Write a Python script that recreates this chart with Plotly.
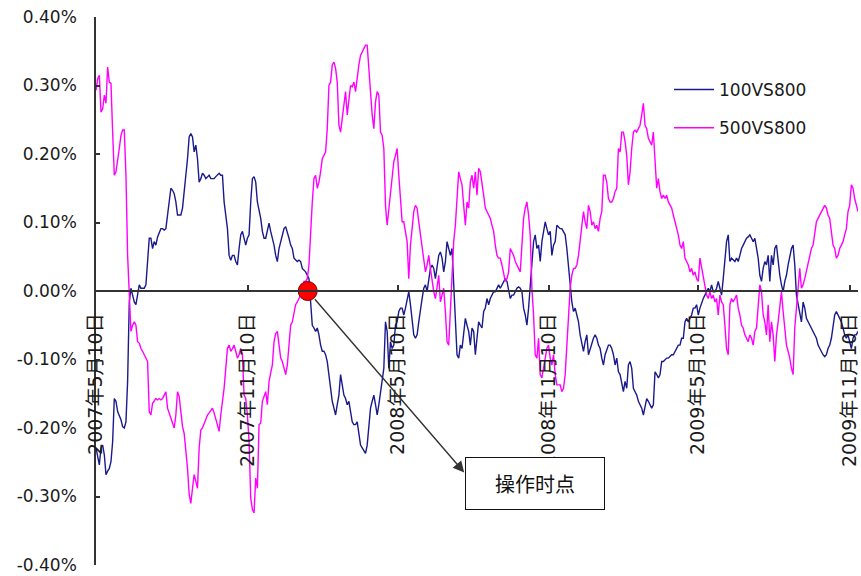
import pandas as pd
import plotly.graph_objects as go

# ---- data (values in %) ----
start_date = "2007-05-10"
end_date = "2009-11-20"

s100 = [
    -0.229,-0.244,-0.254,-0.229,-0.225,-0.239,-0.268,-0.263,-0.259,-0.249,
    -0.220,-0.157,-0.161,-0.176,-0.181,-0.188,-0.198,-0.200,-0.191,-0.132,
    -0.016,0.004,-0.006,-0.016,-0.020,-0.006,0.009,0.004,0.004,0.004,
    0.009,0.043,0.077,0.077,0.062,0.072,0.067,0.079,0.084,0.091,
    0.091,0.089,0.091,0.111,0.130,0.150,0.147,0.142,0.130,0.111,
    0.111,0.111,0.121,0.145,0.159,0.193,0.225,0.230,0.225,0.203,
    0.213,0.193,0.159,0.164,0.172,0.169,0.164,0.167,0.169,0.164,
    0.164,0.164,0.167,0.169,0.172,0.169,0.169,0.130,0.106,0.091,
    0.052,0.045,0.052,0.052,0.043,0.038,0.062,0.082,0.087,0.077,
    0.067,0.077,0.082,0.130,0.164,0.167,0.159,0.130,0.118,0.106,
    0.087,0.077,0.077,0.089,0.099,0.087,0.077,0.067,0.052,0.043,
    0.062,
    0.072,0.082,0.091,0.094,0.087,0.077,0.067,0.062,0.048,0.045,
    0.043,0.045,0.043,0.033,0.031,0.028,0.023,0.018,-0.016,-0.050,
    -0.054,-0.059,-0.054,-0.064,-0.079,-0.088,-0.088,-0.093,-0.103,-0.122,
    -0.147,-0.161,-0.171,-0.181,-0.166,-0.152,-0.122,-0.137,-0.152,-0.157,
    -0.166,-0.161,-0.176,-0.191,-0.195,-0.195,-0.191,-0.205,-0.225,-0.229,
    -0.234,-0.237,-0.225,-0.191,-0.171,-0.161,-0.152,-0.166,-0.181,-0.166,
    -0.147,-0.127,-0.113,-0.045,-0.059,-0.113,-0.074,-0.084,-0.079,-0.050,
    -0.045,-0.030,-0.025,-0.025,-0.035,-0.025,-0.011,-0.001,-0.020,-0.045,
    -0.064,-0.069,-0.064,-0.045,-0.025,-0.011,0.004,0.009,-0.001,0.018,
    0.033,0.038,0.033,0.018,0.033,0.052,0.057,0.048,0.028,0.043,
    0.072,0.062,0.052,0.062,0.004,-0.040,-0.093,-0.098,-0.079,-0.084,
    -0.064,-0.040,-0.050,-0.059,
    -0.079,-0.054,-0.059,-0.093,-0.069,-0.045,-0.050,-0.054,-0.030,-0.025,
    -0.011,-0.020,-0.011,-0.006,-0.001,-0.001,0.004,0.009,0.004,0.009,
    0.014,0.018,0.014,-0.001,-0.011,-0.006,-0.006,-0.001,0.004,0.006,
    0.004,-0.001,-0.025,-0.035,-0.050,-0.025,0.004,0.043,0.072,0.082,
    0.062,0.067,0.043,0.072,0.087,0.101,0.091,0.082,0.087,0.052,
    0.067,0.072,0.096,0.094,0.091,0.091,0.087,0.082,0.062,0.033,
    0.004,-0.016,-0.030,-0.025,-0.035,-0.045,-0.064,-0.079,-0.088,-0.074,
    -0.064,-0.093,-0.084,-0.074,-0.069,-0.064,-0.069,-0.079,-0.084,-0.098,
    -0.108,-0.093,-0.084,-0.079,-0.079,-0.084,-0.093,-0.108,-0.098,-0.118,
    -0.122,-0.137,-0.147,-0.132,-0.142,-0.108,-0.103,-0.113,-0.142,-0.147,
    -0.152,-0.161,-0.166,-0.171,-0.181,-0.171,-0.157,-0.161,-0.166,-0.171,
    -0.166,-0.118,-0.122,-0.127,
    -0.122,-0.103,-0.103,-0.101,-0.098,-0.098,-0.096,-0.093,-0.093,-0.088,
    -0.084,-0.079,-0.079,-0.069,-0.069,-0.045,-0.040,-0.045,-0.040,-0.035,
    -0.025,-0.025,-0.020,-0.035,-0.025,-0.016,-0.011,-0.006,-0.001,0.004,
    -0.001,0.009,-0.001,-0.001,0.004,0.014,0.004,-0.006,0.018,0.052,
    0.072,0.082,0.043,0.048,0.045,0.043,0.048,0.043,0.052,0.062,
    0.067,0.072,0.077,0.079,0.082,0.077,0.072,0.077,0.062,0.048,
    0.023,0.014,0.033,0.043,0.038,0.052,0.014,0.052,0.038,0.062,
    0.067,0.043,0.023,0.009,-0.001,0.014,0.023,0.038,0.052,0.062,
    0.067,0.038,-0.006,-0.020,-0.035,-0.045,-0.016,-0.025,-0.040,-0.045,
    -0.050,-0.054,-0.059,-0.064,-0.069,-0.079,-0.084,-0.088,-0.093,-0.096,
    -0.093,-0.084,-0.079,-0.069,-0.054,-0.035,-0.030,-0.035,-0.040,-0.045,
    -0.054,-0.064,-0.069,-0.064,-0.074,-0.084,-0.069,-0.064,-0.064,-0.059,
]

s500 = [
    0.293,0.310,0.315,0.261,0.266,0.286,0.274,0.327,0.305,0.303,
    0.232,0.169,0.174,0.189,0.208,0.227,0.235,0.235,0.169,0.052,
    -0.001,-0.059,-0.050,-0.045,-0.050,-0.074,-0.076,-0.084,-0.088,-0.093,
    -0.098,-0.103,-0.176,-0.181,-0.164,-0.161,-0.157,-0.159,-0.157,-0.159,
    -0.157,-0.152,-0.147,-0.171,-0.178,-0.186,-0.195,-0.200,-0.181,-0.147,
    -0.154,-0.181,-0.198,-0.208,-0.229,-0.259,-0.297,-0.310,-0.288,-0.268,
    -0.278,-0.288,-0.229,-0.203,-0.200,-0.193,-0.186,-0.181,-0.178,-0.174,
    -0.171,-0.178,-0.188,-0.198,-0.205,-0.181,-0.161,-0.142,-0.113,-0.084,
    -0.079,-0.088,-0.084,-0.079,-0.088,-0.098,-0.093,-0.084,-0.093,-0.152,
    -0.157,-0.181,-0.220,-0.302,-0.319,-0.324,-0.273,-0.288,-0.195,-0.193,
    -0.161,-0.152,-0.147,-0.166,-0.132,-0.120,-0.108,-0.074,-0.062,-0.059,
    -0.079,
    -0.098,-0.103,-0.113,-0.122,-0.108,-0.084,-0.050,-0.045,-0.030,-0.020,
    -0.016,-0.011,-0.006,0.004,0.014,0.014,0.018,0.038,0.091,0.130,
    0.164,0.169,0.150,0.159,0.174,0.193,0.198,0.203,0.237,0.300,
    0.305,0.330,0.334,0.325,0.305,0.242,0.232,0.252,0.271,0.291,
    0.257,0.281,0.300,0.298,0.305,0.291,0.315,0.330,0.344,0.349,
    0.354,0.359,0.359,0.325,0.286,0.257,0.237,0.276,0.291,0.286,
    0.232,0.227,0.208,0.125,0.096,0.121,0.150,0.169,0.189,0.198,
    0.208,0.169,0.140,0.101,0.101,0.087,0.072,0.018,0.067,0.091,
    0.116,0.125,0.121,0.101,0.082,0.062,0.048,0.028,0.038,0.052,
    0.033,0.014,-0.001,-0.011,0.009,0.023,-0.016,-0.006,0.004,-0.030,
    -0.074,-0.079,-0.025,0.023,0.072,0.096,0.130,0.174,0.164,0.155,
    0.125,0.096,0.130,0.121,
    0.159,0.169,0.150,0.174,0.140,0.179,0.174,0.159,0.140,0.121,
    0.116,0.111,0.106,0.096,0.087,0.067,0.052,0.048,0.048,0.038,
    0.028,0.014,0.018,0.028,0.062,0.057,0.052,0.043,0.038,0.033,
    0.028,0.067,0.106,0.121,0.130,0.111,0.082,0.004,-0.035,-0.093,
    -0.098,-0.069,-0.122,-0.127,-0.113,-0.093,-0.084,-0.079,-0.098,-0.108,
    -0.093,-0.122,-0.137,-0.137,-0.137,-0.147,-0.142,-0.122,-0.084,-0.045,
    0.004,0.023,0.033,0.033,0.038,0.052,0.072,0.101,0.116,0.101,
    0.091,0.125,0.116,0.096,0.101,0.091,0.096,0.087,0.106,0.116,
    0.169,0.169,0.159,0.135,0.130,0.130,0.135,0.145,0.150,0.208,
    0.203,0.232,0.232,0.218,0.198,0.155,0.174,0.208,0.232,0.235,
    0.232,0.237,0.242,0.257,0.274,0.242,0.237,0.223,0.218,0.213,
    0.232,0.184,0.150,0.164,
    0.145,0.135,0.140,0.135,0.140,0.130,0.125,0.121,0.111,0.101,
    0.091,0.082,0.067,0.062,0.072,0.048,0.043,0.038,0.028,0.033,
    0.023,0.028,0.018,0.014,0.048,0.033,0.023,0.004,-0.006,-0.011,
    -0.001,-0.011,-0.006,-0.016,-0.011,-0.035,-0.006,-0.016,-0.020,-0.050,
    -0.084,-0.093,-0.020,-0.011,-0.016,-0.011,-0.006,-0.025,-0.035,-0.050,
    -0.054,-0.064,-0.069,-0.074,-0.064,-0.069,-0.079,-0.059,-0.054,-0.025,
    0.009,-0.001,-0.035,-0.045,-0.064,-0.020,-0.074,-0.045,-0.064,-0.103,
    -0.064,-0.045,-0.025,-0.001,-0.030,-0.059,-0.079,-0.088,-0.098,-0.113,
    -0.122,-0.054,-0.020,-0.001,0.033,0.004,0.009,0.018,0.028,0.038,
    0.048,0.062,0.067,0.087,0.101,0.106,0.111,0.116,0.121,0.125,
    0.121,0.111,0.106,0.087,0.067,0.062,0.048,0.052,0.062,0.067,
    0.072,0.082,0.091,0.116,0.125,0.155,0.150,0.135,0.125,0.116,
]

series_names = ["100VS800", "500VS800"]

x_tick_dates = ["2007-05-10", "2007-11-10", "2008-05-10",
                "2008-11-10", "2009-05-10", "2009-11-10"]
x_tick_labels = ["2007年5月10日", "2007年11月10日", "2008年5月10日",
                 "2008年11月10日", "2009年5月10日", "2009年11月10日"]

y_tick_vals = [0.4, 0.3, 0.2, 0.1, 0.0, -0.1, -0.2, -0.3, -0.4]
y_tick_labels = ["0.40%", "0.30%", "0.20%", "0.10%", "0.00%",
                 "-0.10%", "-0.20%", "-0.30%", "-0.40%"]

op_date = "2008-01-22"
op_value = 0.0
op_label = "操作时点"

# ---- figure ----
n = max(len(s100), len(s500))
dates = pd.date_range(start_date, end_date, periods=n)

FONT = "DejaVu Sans, Noto Sans CJK SC, sans-serif"
AX = "#333333"

fig = go.Figure()
fig.add_trace(go.Scatter(x=dates[:len(s100)], y=s100, mode="lines",
                         name=series_names[0], legend="legend",
                         line=dict(color="#1A1A8C", width=1.4)))
fig.add_trace(go.Scatter(x=dates[:len(s500)], y=s500, mode="lines",
                         name=series_names[1], legend="legend2",
                         line=dict(color="#FF00FF", width=1.4)))
fig.add_trace(go.Scatter(x=[op_date], y=[op_value], mode="markers",
                         showlegend=False,
                         marker=dict(size=19, color="#FF0000",
                                     line=dict(color="#7A0000", width=1))))

fig.add_annotation(x="2008-07-30", y=-0.265, xref="x", yref="y",
                   ax=op_date, ay=op_value, axref="x", ayref="y",
                   text="", showarrow=True, arrowhead=2, arrowsize=1.6,
                   arrowwidth=1.4, arrowcolor="#333333",
                   startstandoff=9, standoff=0)
fig.add_annotation(x=0.576, y=0.148, xref="paper", yref="paper",
                   text=op_label, showarrow=False,
                   font=dict(family="Noto Sans CJK SC", size=20, color="#111111"),
                   width=136, height=49, bordercolor="#111111", borderwidth=1,
                   bgcolor="white", xanchor="center", yanchor="middle")

fig.update_layout(
    width=861, height=576,
    margin=dict(l=96, r=3, t=17, b=11),
    paper_bgcolor="white", plot_bgcolor="white",
    font=dict(family=FONT, size=17, color="#1a1a1a"),
    showlegend=True,
    legend=dict(x=0.752, y=0.867, xanchor="left", yanchor="middle",
                bgcolor="rgba(0,0,0,0)", itemwidth=40,
                font=dict(family=FONT, size=17, color="#1a1a1a")),
    legend2=dict(x=0.752, y=0.797, xanchor="left", yanchor="middle",
                 bgcolor="rgba(0,0,0,0)", itemwidth=40,
                 font=dict(family=FONT, size=17, color="#1a1a1a")),
    xaxis=dict(type="date", range=[dates[0], dates[-1]],
               anchor="free", position=0.5, side="bottom", automargin=False,
               showline=True, linecolor=AX, linewidth=1.5,
               showgrid=False, zeroline=False,
               ticks="inside", ticklen=5, tickcolor=AX, tickwidth=1.5,
               tickvals=x_tick_dates, ticktext=x_tick_labels,
               tickangle=-90, ticklabelstandoff=14,
               tickfont=dict(family=FONT, size=19, color="#1a1a1a")),
    yaxis=dict(range=[-0.4, 0.4], showline=True, linecolor=AX, linewidth=1.5,
               automargin=False, showgrid=False, zeroline=False,
               ticks="inside", ticklen=4, tickcolor=AX, tickwidth=1.5,
               tickvals=y_tick_vals, ticktext=y_tick_labels,
               ticklabelstandoff=14,
               tickfont=dict(family=FONT, size=17, color="#1a1a1a")),
)

fig.write_html("out.html", config={"displayModeBar": False},
               post_script="document.body.style.margin='0';"
                           "document.body.style.overflow='hidden';")
